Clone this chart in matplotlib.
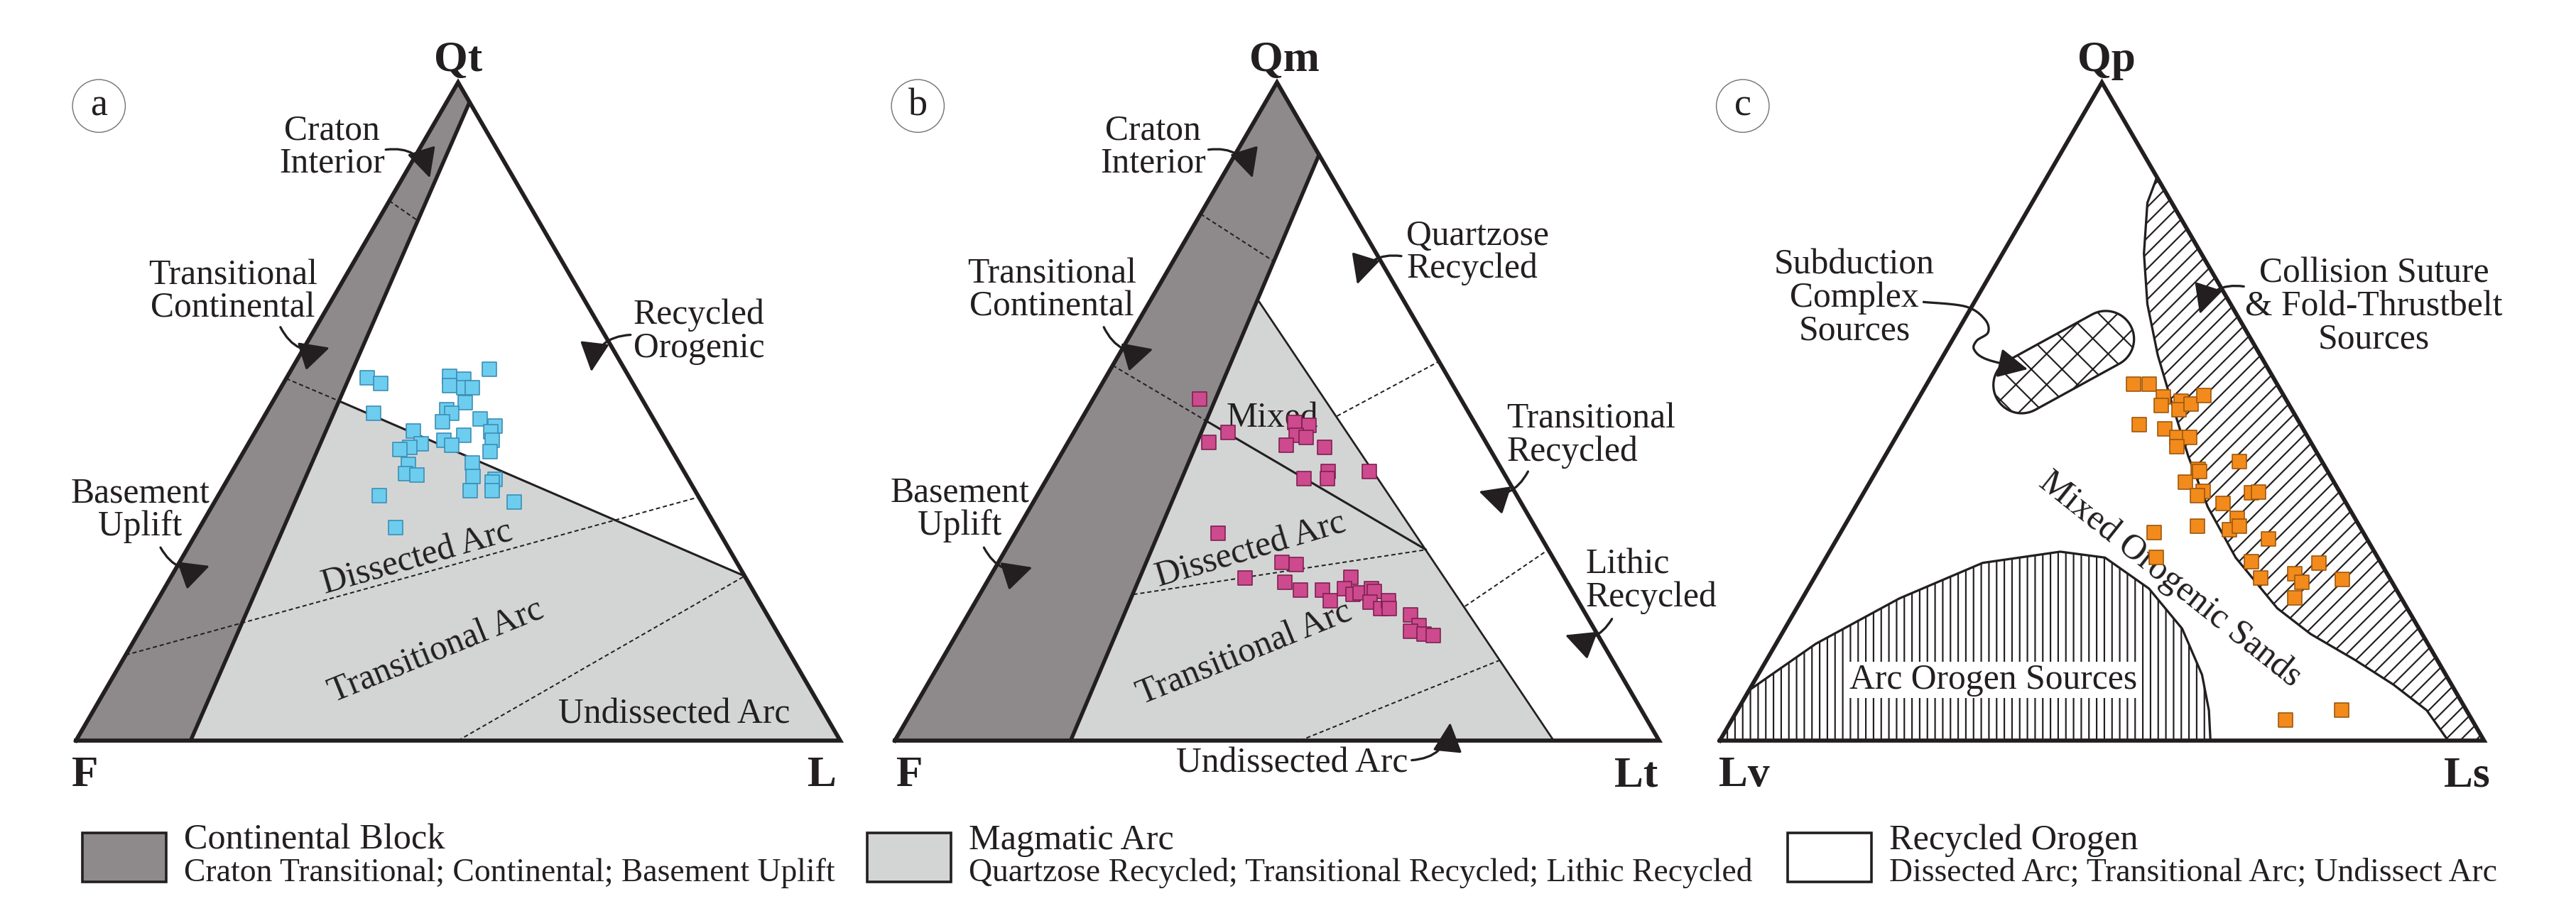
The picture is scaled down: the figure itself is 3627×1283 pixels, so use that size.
import numpy as np
import matplotlib.pyplot as plt
from matplotlib.patches import Polygon, FancyArrowPatch, Rectangle
from matplotlib.path import Path

# --- sample compositions (%), top apex and right apex; left = 100 - top - right
# a) Qt-F-L
qt_a = [55.1, 54.3, 55.3, 54.9, 56.4, 53.9, 53.6, 53.6, 51.4, 49.7, 50.3, 49.7, 48.4,
        48.9, 47.8, 46.9, 47.0, 46.4, 45.6, 44.9, 45.1, 44.6, 44.2, 45.6, 43.9, 42.2,
        42.0, 40.6, 40.3, 40.1, 39.7, 39.3, 38.0, 38.0, 37.2, 36.2, 32.4]
l_a = [10.6, 12.7, 21.2, 23.3, 25.9, 21.9, 23.9, 25.1, 25.2, 14.1, 23.4, 24.3, 23.8,
       28.4, 30.9, 30.8, 20.6, 27.5, 25.3, 26.7, 22.6, 21.4, 20.3, 31.7, 32.2, 30.8,
       22.5, 22.8, 24.5, 31.9, 35.0, 34.8, 32.6, 35.5, 21.1, 39.2, 25.6]
# b) Qm-F-Lt
qm_b = [51.9, 46.8, 45.3, 48.3, 47.9, 46.4, 46.1, 44.9, 44.5, 39.8, 40.9, 39.8, 40.9,
        31.5, 27.1, 26.8, 24.7, 24.1, 22.9, 22.9, 21.2, 24.8, 23.1, 22.2, 22.4, 23.1,
        22.6, 21.0, 20.1, 21.2, 20.1, 19.1, 17.5, 16.6, 16.2, 16.0]
lt_b = [13.9, 20.2, 18.4, 28.2, 30.2, 29.3, 30.8, 28.8, 34.0, 33.6, 36.2, 36.7, 41.6,
        26.5, 37.1, 39.1, 33.5, 39.0, 41.6, 44.5, 46.4, 47.3, 47.3, 48.8, 49.7, 50.8,
        51.4, 51.7, 53.5, 54.0, 54.6, 57.9, 59.8, 59.2, 61.1, 62.4]
# c) Qp-Lv-Ls
qp_c = [54.2, 54.1, 52.2, 50.9, 51.6, 50.3, 51.1, 52.4, 48.0, 47.4, 46.1, 46.1, 44.7,
        42.4, 41.2, 40.9, 39.3, 37.9, 37.2, 37.6, 37.8, 36.0, 33.8, 32.6, 32.0, 32.6,
        31.6, 30.6, 27.8, 27.2, 27.0, 24.7, 25.4, 24.1, 24.5, 21.7, 4.6, 3.1]
ls_c = [27.0, 29.1, 31.9, 32.3, 34.6, 34.9, 36.1, 37.1, 30.9, 34.5, 36.8, 38.4, 37.5,
        46.8, 42.0, 42.3, 41.3, 44.3, 43.9, 50.8, 51.6, 47.8, 50.8, 46.2, 50.7, 51.7,
        41.0, 56.5, 43.2, 56.0, 64.9, 58.4, 62.5, 64.1, 69.2, 64.4, 79.1, 72.5]

# --- field boundaries (top %, right %)
# a) Dickinson QtFL
band_a = ([0, 100, 97, 0], [0, 0, 3, 15])
arc_a = ([51.6, 25, 0, 0], [8.6, 75, 100, 15])
# b) Dickinson QmFLt
band_b = ([0, 100, 89, 0], [0, 0, 11, 23])
arc_b = ([66.7, 0, 0], [14.3, 86.2, 23])
# c) Qp-Lv-Ls
coll_top = [85.6, 81.7, 74.0, 66.3, 58.6, 50.9, 43.2, 35.5, 27.8, 20.1, 16.2, 12.3, 8.5, 4.6, 0]
coll_right = [14.4, 15.1, 18.5, 22.8, 28.0, 33.8, 39.7, 46.1, 53.6, 62.9, 69.2, 76.9, 83.9, 90.2, 95.3]
dome_top = [0, 7.9, 14.7, 21.6, 27.0, 28.7, 27.8, 23.1, 17.0, 10.0, 4.6, 0]
dome_right = [0, 0.2, 5.2, 12.7, 20.9, 30.2, 36.5, 44.6, 52.0, 58.1, 61.7, 64.2]
sub_top = [54, 61]
sub_right = [12.5, 20]

INK = '#231f20'
DARK = '#8e898a'
LIGHT = '#d3d5d5'

plt.rcParams['font.family'] = ['Liberation Serif', 'DejaVu Serif']
plt.rcParams['hatch.linewidth'] = 1.2

DPI = 130
fig = plt.figure(figsize=(3627 / DPI, 1283 / DPI), dpi=DPI)

SIDE = 1076.0
VSC = 927 / (np.sqrt(3) / 2)
BASE = 1043.0


def tern(top, right):
    top = np.asarray(top, float) / 100
    right = np.asarray(right, float) / 100
    return right + top / 2, top * np.sqrt(3) / 2


def panel(left, right, x0):
    ax = fig.add_axes([left / 3627, 0, (right - left) / 3627, 1])
    ax.set_xlim((left - x0) / SIDE, (right - x0) / SIDE)
    ax.set_ylim((BASE - 1283) / VSC, BASE / VSC)
    ax.axis('off')
    return ax


def region(ax, top, right, **kw):
    x, y = tern(top, right)
    ax.add_patch(Polygon(np.column_stack([x, y]), closed=True, **kw))


def line(ax, top, right, dashed=False, lw=1.7):
    x, y = tern(top, right)
    if dashed:
        ax.plot(x, y, color=INK, lw=1.1, ls=(0, (3, 2)), zorder=2)
    else:
        ax.plot(x, y, color=INK, lw=lw, zorder=2, solid_capstyle='round')


def frame(ax):
    x, y = tern([0, 100, 0, 0], [0, 0, 100, 0])
    ax.plot(x, y, color=INK, lw=3.2, zorder=3, solid_joinstyle='miter')


HEAD = '-|>,head_length=0.9,head_width=0.45'


def arrow(ax, p0, p1, rad):
    ax.add_patch(FancyArrowPatch(p0, p1, connectionstyle=f'arc3,rad={rad}',
                                 arrowstyle=HEAD, mutation_scale=22, lw=1.8,
                                 color=INK, zorder=4))


def label(ax, x, y, s, rot=0, **kw):
    ax.text(x, y, s, fontsize=27.5, ha='center', va='center', rotation=rot,
            linespacing=1.0, color=INK, zorder=4, **kw)


def corners(ax, top, left, right, xl, xr, xt=0.5):
    kw = dict(fontsize=34, fontweight='bold', ha='center', va='center', color=INK)
    ax.text(xt, 0.895, top, **kw)
    ax.text(xl, -0.046, left, **kw)
    ax.text(xr, -0.046, right, **kw)


def tag(ax, s):
    ax.text(0.03, 0.835, s, fontsize=30, ha='center', va='center', color=INK,
            bbox=dict(boxstyle='circle,pad=0.22', fc='white', ec='#777777', lw=0.8))


def squares(ax, top, right, fc, ec):
    x, y = tern(top, right)
    ax.scatter(x, y, marker='s', s=125, facecolor=fc, edgecolor=ec, lw=0.9, zorder=5)


def smooth(pts, n=12):
    # Catmull-Rom through the guide points of a hand-drawn arrow
    p = np.asarray(pts, float)
    p = np.vstack([p[0], p, p[-1]])
    out = []
    for i in range(1, len(p) - 2):
        for t in np.linspace(0, 1, n, endpoint=False):
            a, b, c, d = p[i - 1], p[i], p[i + 1], p[i + 2]
            out.append(0.5 * (2 * b + (-a + c) * t + (2 * a - 5 * b + 4 * c - d) * t ** 2
                              + (-a + 3 * b - 3 * c + d) * t ** 3))
    out.append(p[-2])
    return np.array(out)


# ---------------- panel a
ax = panel(0, 1200, 107)
region(ax, *arc_a, fc=LIGHT, ec='none', zorder=1)
region(ax, *band_a, fc=DARK, ec='none', zorder=1)
line(ax, [97, 0], [3, 15], lw=3.0)
line(ax, [82, 79], [0, 5.2], dashed=True)
line(ax, [55, 51.6], [0, 8.6], dashed=True)
line(ax, [51.6, 25], [8.6, 75])
line(ax, [13, 37], [0, 63], dashed=True)
line(ax, [0, 25], [50, 75], dashed=True)
frame(ax)
corners(ax, 'Qt', 'F', 'L', 0.012, 0.976)
tag(ax, 'a')
label(ax, 0.335, 0.781, 'Craton\nInterior')
arrow(ax, (0.402, 0.777), (0.464, 0.737), -0.45)
label(ax, 0.205, 0.590, 'Transitional\nContinental')
arrow(ax, (0.266, 0.547), (0.335, 0.518), 0.45)
label(ax, 0.815, 0.538, 'Recycled\nOrogenic', multialignment='left')
arrow(ax, (0.729, 0.534), (0.674, 0.482), 0.45)
label(ax, 0.084, 0.303, 'Basement\nUplift')
arrow(ax, (0.109, 0.257), (0.178, 0.231), 0.45)
label(ax, 0.447, 0.240, 'Dissected Arc', rot=16)
label(ax, 0.472, 0.117, 'Transitional Arc', rot=22)
label(ax, 0.783, 0.034, 'Undissected Arc')
squares(ax, qt_a, l_a, '#6ccdef', '#3b8db5')

# ---------------- panel b
ax = panel(1200, 2400, 1260)
region(ax, *arc_b, fc=LIGHT, ec='none', zorder=1)
region(ax, *band_b, fc=DARK, ec='none', zorder=1)
line(ax, [89, 0], [11, 23], lw=3.0)
line(ax, [66.7, 0], [14.3, 86.2], lw=1.5)
line(ax, [80, 72.8], [0, 13.2], dashed=True)
line(ax, [57, 48.6], [0, 16.4], dashed=True)
line(ax, [48.6, 29], [16.4, 55])
line(ax, [22.2, 29], [20.1, 55], dashed=True)
line(ax, [0, 12.3], [53, 73.2], dashed=True)
line(ax, [49.3, 57.6], [33.2, 42.4], dashed=True)
line(ax, [20.4, 29], [64.4, 71], dashed=True)
frame(ax)
corners(ax, 'Qm', 'F', 'Lt', 0.019, 0.970, 0.51)
tag(ax, 'b')
label(ax, 0.338, 0.781, 'Craton\nInterior')
arrow(ax, (0.407, 0.777), (0.469, 0.737), -0.45)
label(ax, 0.763, 0.642, 'Quartzose\nRecycled', multialignment='left')
arrow(ax, (0.666, 0.637), (0.604, 0.597), 0.45)
label(ax, 0.205, 0.592, 'Transitional\nContinental')
arrow(ax, (0.272, 0.547), (0.341, 0.516), 0.45)
label(ax, 0.494, 0.424, 'Mixed')
label(ax, 0.911, 0.401, 'Transitional\nRecycled', multialignment='left')
arrow(ax, (0.830, 0.357), (0.761, 0.329), -0.45)
label(ax, 0.085, 0.304, 'Basement\nUplift')
arrow(ax, (0.115, 0.257), (0.183, 0.229), 0.45)
label(ax, 0.466, 0.250, 'Dissected Arc', rot=16.5)
label(ax, 0.458, 0.114, 'Transitional Arc', rot=22)
label(ax, 0.990, 0.210, 'Lithic\nRecycled', multialignment='left')
arrow(ax, (0.940, 0.163), (0.874, 0.140), -0.45)
label(ax, 0.520, -0.030, 'Undissected Arc')
arrow(ax, (0.673, -0.026), (0.727, 0.027), 0.45)
squares(ax, qm_b, lt_b, '#cc4a8d', '#7e2050')

# ---------------- panel c
ax = panel(2400, 3627, 2421.5)
region(ax, coll_top + [0, 85.6], coll_right + [100, 14.4],
       fc='none', ec=INK, lw=0, hatch='//', zorder=1)
line(ax, coll_top, coll_right, lw=1.8)
region(ax, dome_top, dome_right, fc='none', ec=INK, lw=0, hatch='||', zorder=1)
line(ax, dome_top[1:], dome_right[1:], lw=1.8)

# subduction complex field: rounded bar between two end-cap centres
cx, cy = tern(sub_top, sub_right)
r = 0.037
ang = np.arctan2(cy[1] - cy[0], cx[1] - cx[0])
t1 = np.linspace(ang - np.pi / 2, ang + np.pi / 2, 40)
t0 = np.linspace(ang + np.pi / 2, ang + 3 * np.pi / 2, 40)
bx = np.concatenate([cx[1] + r * np.cos(t1), cx[0] + r * np.cos(t0)])
by = np.concatenate([cy[1] + r * np.sin(t1), cy[0] + r * np.sin(t0)])
ax.add_patch(Polygon(np.column_stack([bx, by]), closed=True, fc='white', ec=INK,
                     lw=0, hatch='x', zorder=1))
ax.add_patch(Polygon(np.column_stack([bx, by]), closed=True, fc='none', ec=INK,
                     lw=1.8, zorder=2))
frame(ax)
corners(ax, 'Qp', 'Lv', 'Ls', 0.032, 0.978, 0.506)
tag(ax, 'c')
label(ax, 0.176, 0.582, 'Subduction\nComplex\nSources')
squiggle = smooth([(0.267, 0.577), (0.322, 0.571), (0.347, 0.554), (0.351, 0.537),
                   (0.336, 0.526), (0.333, 0.514), (0.351, 0.501), (0.406, 0.488)])
ax.plot(squiggle[:-3, 0], squiggle[:-3, 1], color=INK, lw=1.8, zorder=4)
ax.add_patch(FancyArrowPatch(tuple(squiggle[-4]), tuple(squiggle[-1]),
                             arrowstyle=HEAD, mutation_scale=22, lw=1.8,
                             color=INK, zorder=4))
label(ax, 0.856, 0.571, 'Collision Suture\n& Fold-Thrustbelt\nSources')
arrow(ax, (0.689, 0.597), (0.627, 0.558), 0.45)
label(ax, 0.589, 0.212, 'Mixed Orogenic Sands', rot=-38.5)
label(ax, 0.358, 0.080, 'Arc Orogen Sources',
      bbox=dict(boxstyle='square,pad=0.05', fc='white', ec='none'))
squares(ax, qp_c, ls_c, '#f28b1c', '#9c560c')

# ---------------- legend strip
leg = fig.add_axes([0, 0, 1, 1], zorder=-1)
leg.set_xlim(0, 3627)
leg.set_ylim(1283, 0)
leg.axis('off')
legend_items = [
    (116, DARK, 'Continental Block', 'Craton Transitional; Continental; Basement Uplift'),
    (1221, LIGHT, 'Magmatic Arc', 'Quartzose Recycled; Transitional Recycled; Lithic Recycled'),
    (2517, 'white', 'Recycled Orogen', 'Dissected Arc; Transitional Arc; Undissect Arc'),
]
for x, fc, title, sub in legend_items:
    leg.add_patch(Rectangle((x, 1173), 118, 69, fc=fc, ec=INK, lw=2))
    leg.text(x + 143, 1196, title, fontsize=27.8, va='baseline', color=INK)
    leg.text(x + 143, 1241, sub, fontsize=25.3, va='baseline', color=INK)

fig.savefig('out.png', dpi=DPI, facecolor='white')
